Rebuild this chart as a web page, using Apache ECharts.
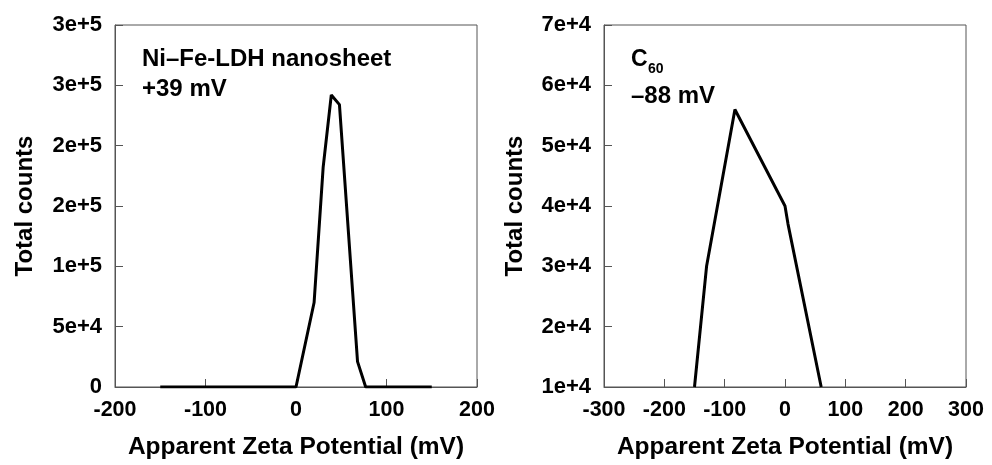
<!DOCTYPE html>
<html>
<head>
<meta charset="utf-8">
<script src="https://cdn.jsdelivr.net/npm/echarts@6/dist/echarts.min.js"></script>
<style>
html,body{margin:0;padding:0;background:#fff;}
#chart{width:992px;height:465px;}
</style>
</head>
<body>
<div id="chart"></div>
<script>
// Left panel: Ni–Fe-LDH nanosheet
var leftX = [-150, 0, 20, 30, 39, 48, 68, 77, 150];
var leftY = [0, 0, 70000, 182000, 242000, 234000, 21000, 0, 0];
var leftYTicks = [0, 50000, 100000, 150000, 200000, 250000, 300000];
var leftYTickLabels = ['0', '5e+4', '1e+5', '2e+5', '2e+5', '3e+5', '3e+5'];
var leftXTicks = [-200, -100, 0, 100, 200];

// Right panel: C60
var rightX = [-150, -130, -83, 0, 5, 60];
var rightY = [10000, 30000, 56000, 40000, 37000, 10000];
var rightYTicks = [10000, 20000, 30000, 40000, 50000, 60000, 70000];
var rightYTickLabels = ['1e+4', '2e+4', '3e+4', '4e+4', '5e+4', '6e+4', '7e+4'];
var rightXTicks = [-300, -200, -100, 0, 100, 200, 300];

var FONT = '"Liberation Sans", Arial, Helvetica, sans-serif';
var AXIS_COLOR = '#555';

function pairs(xs, ys) {
  return xs.map(function (x, i) { return [x, ys[i]]; });
}
function labelFor(ticks, labels) {
  return function (v) {
    for (var i = 0; i < ticks.length; i++) {
      if (Math.abs(ticks[i] - v) < 1e-6) return labels[i];
    }
    return '';
  };
}

function xAxisCfg(gridIndex, ticks) {
  return {
    type: 'value', gridIndex: gridIndex,
    min: ticks[0], max: ticks[ticks.length - 1], interval: ticks[1] - ticks[0],
    name: 'Apparent Zeta Potential (mV)', nameLocation: 'middle', nameGap: 48,
    nameTextStyle: { fontFamily: FONT, fontWeight: 'bold', fontSize: 24.5, color: '#000' },
    axisLine: { show: true, onZero: false, lineStyle: { color: AXIS_COLOR, width: 1 } },
    axisTick: { show: true, inside: true, length: 8, lineStyle: { color: AXIS_COLOR, width: 1 } },
    axisLabel: { fontFamily: FONT, fontWeight: 'bold', fontSize: 21.5, color: '#000', margin: 12,
      formatter: function (v) { return String(v); } },
    splitLine: { show: false }
  };
}
function yAxisCfg(gridIndex, ticks, labels, nameGap) {
  return {
    type: 'value', gridIndex: gridIndex,
    min: ticks[0], max: ticks[ticks.length - 1], interval: ticks[1] - ticks[0],
    name: 'Total counts', nameLocation: 'middle', nameGap: nameGap,
    nameTextStyle: { fontFamily: FONT, fontWeight: 'bold', fontSize: 24, color: '#000' },
    axisLine: { show: true, onZero: false, lineStyle: { color: AXIS_COLOR, width: 1 } },
    axisTick: { show: true, inside: true, length: 8, lineStyle: { color: AXIS_COLOR, width: 1 } },
    axisLabel: { fontFamily: FONT, fontWeight: 'bold', fontSize: 22, color: '#000', margin: 13,
      formatter: labelFor(ticks, labels) },
    splitLine: { show: false }
  };
}

var chart = echarts.init(document.getElementById('chart'), null, { renderer: 'canvas' });
var option = {
  backgroundColor: '#fff',
  animation: false,
  grid: [
    { left: 115, top: 25, width: 362, height: 363, show: true, borderColor: AXIS_COLOR, borderWidth: 1, backgroundColor: 'transparent' },
    { left: 604, top: 25, width: 362, height: 363, show: true, borderColor: AXIS_COLOR, borderWidth: 1, backgroundColor: 'transparent' }
  ],
  xAxis: [xAxisCfg(0, leftXTicks), xAxisCfg(1, rightXTicks)],
  yAxis: [yAxisCfg(0, leftYTicks, leftYTickLabels, 78), yAxisCfg(1, rightYTicks, rightYTickLabels, 77)],
  series: [
    { type: 'line', xAxisIndex: 0, yAxisIndex: 0, data: pairs(leftX, leftY), showSymbol: false,
      lineStyle: { color: '#000', width: 3 }, clip: true },
    { type: 'line', xAxisIndex: 1, yAxisIndex: 1, data: pairs(rightX, rightY), showSymbol: false,
      lineStyle: { color: '#000', width: 3 }, clip: true }
  ],
  graphic: [
    { type: 'text', left: 142, top: 47, style: { text: 'Ni\u2013Fe-LDH nanosheet', font: 'bold 24px ' + FONT, fill: '#000' } },
    { type: 'text', left: 142, top: 77, style: { text: '+39 mV', font: 'bold 24px ' + FONT, fill: '#000' } },
    { type: 'text', left: 631, top: 48, style: { text: 'C', font: 'bold 23px ' + FONT, fill: '#000' } },
    { type: 'text', left: 648, top: 62, style: { text: '60', font: 'bold 14px ' + FONT, fill: '#000' } },
    { type: 'text', left: 631, top: 84, style: { text: '\u201388 mV', font: 'bold 24px ' + FONT, fill: '#000' } }
  ]
};
chart.setOption(option);
</script>
</body>
</html>
